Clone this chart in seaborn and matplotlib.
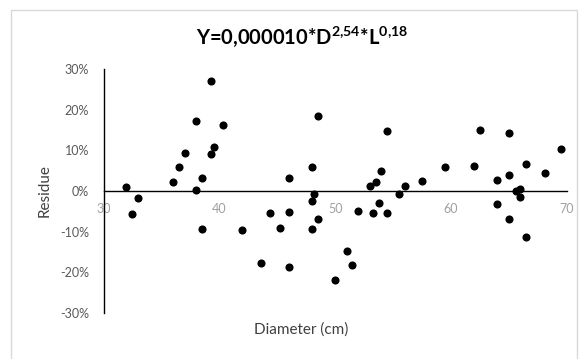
import matplotlib
matplotlib.use("Agg")
import matplotlib.pyplot as plt
import matplotlib.ticker as mticker
import seaborn as sns
import pandas as pd

# Diameter (cm) and residue (%)
diameter = [31.9, 32.5, 33.0, 36.0, 36.5, 37.0, 38.0, 38.0, 38.5, 38.5,
            39.3, 39.3, 39.5, 40.3, 42.0, 43.6, 44.4, 45.2, 46.0, 46.0,
            46.0, 48.0, 48.55, 48.2, 48.0, 48.55, 48.0, 50.0, 51.05, 51.5,
            52.0, 53.0, 53.3, 53.55, 53.75, 54.0, 54.5, 54.5, 55.5, 56.05,
            57.5, 59.5, 62.0, 62.5, 64.0, 64.0, 65.0, 65.0, 65.0, 65.6,
            66.0, 66.0, 66.5, 66.5, 68.1, 69.5]
residue = [0.9, -5.7, -1.7, 2.1, 5.8, 9.3, 17.2, 0.3, 3.1, -9.3,
           27.0, 9.1, 10.9, 16.3, -9.6, -17.7, -5.4, -9.0, 3.1, -5.1,
           -18.7, 5.8, 18.4, -0.8, -2.4, -6.9, -9.3, -22.0, -14.7, -18.3,
           -4.8, 1.2, -5.4, 2.1, -3.0, 4.9, 14.8, -5.4, -0.8, 1.2,
           2.5, 5.8, 6.1, 15.1, 2.7, -3.3, 14.2, 3.9, -6.9, 0.0,
           0.4, -1.6, 6.6, -11.4, 4.5, 10.3]

x_ticks = [30, 40, 50, 60, 70]
y_ticks = [-0.3, -0.2, -0.1, 0.0, 0.1, 0.2, 0.3]

df = pd.DataFrame({"Diameter": diameter, "Residue": [r / 100 for r in residue]})

sns.set_style("white")
plt.rcParams["font.family"] = ["Lato", "DejaVu Sans"]
plt.rcParams["mathtext.fontset"] = "custom"
plt.rcParams["mathtext.rm"] = "Lato"
plt.rcParams["mathtext.bf"] = "Lato:bold"

fig = plt.figure(figsize=(5.79, 3.59), dpi=100)
ax = fig.add_axes([0.1788, 0.128, 0.8, 0.68])

# light chart border
fig.patches.append(plt.Rectangle((0.019, -0.05), 0.978, 1.023, transform=fig.transFigure,
                                 fill=False, edgecolor="#d9d9d9", linewidth=1))

sns.scatterplot(data=df, x="Diameter", y="Residue", ax=ax, color="black",
                s=34, edgecolor="black", linewidth=0)

ax.set_xlim(30, 70)
ax.set_ylim(-0.3, 0.3)
ax.set_xticks(x_ticks)
ax.set_yticks(y_ticks)
ax.yaxis.set_major_formatter(mticker.FuncFormatter(lambda v, p: f"{v*100:.0f}%"))

ax.spines["top"].set_visible(False)
ax.spines["right"].set_visible(False)
ax.spines["bottom"].set_position(("data", 0))
for s in ["left", "bottom"]:
    ax.spines[s].set_color("black")
    ax.spines[s].set_linewidth(1)

ax.tick_params(axis="x", length=0, pad=9, labelsize=9, labelcolor="#a0a0a0")
ax.tick_params(axis="y", length=0, pad=10.5, labelsize=9, labelcolor="#595959")

ax.set_xlabel("Diameter (cm)", fontsize=11, color="#404040")
ax.xaxis.set_label_coords((301 - 103.5) / 463.5, -0.04)
ax.set_ylabel("Residue", fontsize=11, color="#404040")
ax.yaxis.set_label_coords(-0.111, 0.5)

fig.text(302.5 / 579, 1 - 44 / 359,
         r"Y=0,000010*D$^{\mathbf{2{,}54}}$*L$^{\mathbf{0{,}18}}$",
         fontsize=14.5, fontweight="bold", color="black", ha="center", va="baseline")

fig.savefig("out.png", dpi=100)
